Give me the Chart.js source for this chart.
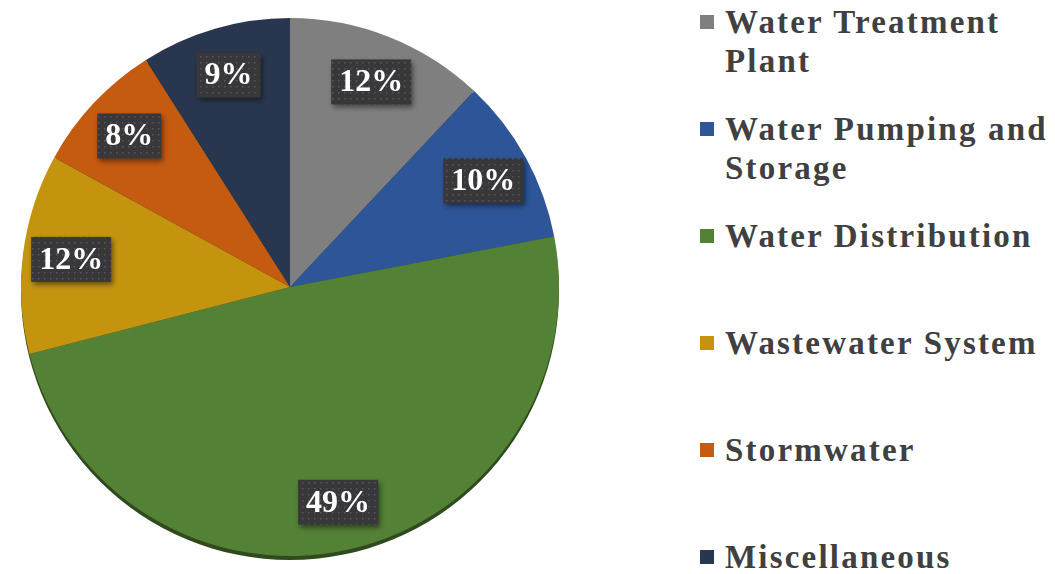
<!DOCTYPE html>
<html>
<head>
<meta charset="utf-8">
<script src="https://cdn.jsdelivr.net/npm/chart.js@4.4.0/dist/chart.umd.min.js"></script>
<style>
  body { margin: 0; background: #fff; width: 1055px; height: 574px; overflow: hidden; position: relative; }
  #wrap { position: absolute; left: 0; top: 0; width: 580px; height: 574px; }
  #legend { position: absolute; left: 698px; top: 3px; width: 357px; }
  .item { position: relative; height: 107px; }
  .box { position: absolute; left: 2px; top: 12px; width: 14px; height: 14px; }
  .txt { position: absolute; left: 27px; top: 0; width: 330px;
         font: bold 33px "Liberation Serif", "Times New Roman", serif;
         line-height: 39px; letter-spacing: 2.2px; color: #404040; }
</style>
</head>
<body>
<div id="wrap"><canvas id="pie"></canvas></div>
<div id="legend"></div>
<script>
// data
const categories = ["Water Treatment Plant", "Water Pumping and Storage", "Water Distribution",
                    "Wastewater System", "Stormwater", "Miscellaneous"];
const shares = [12, 10, 49, 12, 8, 9];
const sliceColors = ["#7f7f7f", "#2e5598", "#538135", "#c4940f", "#c55a11", "#28374f"];

// dotted dark fill for the percent labels
function dotPattern(ctx){
  let c = document.createElement('canvas');
  c.width = 6; c.height = 6;
  let g = c.getContext('2d');
  g.fillStyle = '#38383b';
  g.fillRect(0, 0, 6, 6);
  g.fillStyle = '#56565c';
  g.fillRect(2, 2, 1.5, 1.5);
  return ctx.createPattern(c, 'repeat');
}

// dark rim under the pie, like the 3d edge in the picture
const rimPlugin = {
  id: 'rim',
  beforeDatasetsDraw(chart){
    let arc = chart.getDatasetMeta(0).data[0];
    if(!arc) return;
    let ctx = chart.ctx;
    ctx.save();
    ctx.beginPath();
    ctx.arc(arc.x, arc.y + 4, arc.outerRadius, 0, Math.PI * 2);
    ctx.fillStyle = '#2f4a1c';
    ctx.fill();
    ctx.restore();
  }
};

const labelPlugin = {
  id: 'pctLabels',
  afterDatasetsDraw(chart){
    let ctx = chart.ctx;
    let pat = dotPattern(ctx);
    let meta = chart.getDatasetMeta(0);
    ctx.save();
    ctx.font = 'bold 32px "Liberation Serif", serif';
    ctx.textAlign = 'center';
    ctx.textBaseline = 'middle';
    meta.data.forEach(function(arc, i){
      let mid = (arc.startAngle + arc.endAngle) / 2;
      let r = arc.outerRadius * 0.82;
      let x = arc.x + Math.cos(mid) * r;
      let y = arc.y + Math.sin(mid) * r;
      let text = shares[i] + '%';
      let w = ctx.measureText(text).width + 16;
      let h = 45;
      ctx.save();
      ctx.shadowColor = 'rgba(0,0,0,0.45)';
      ctx.shadowBlur = 5;
      ctx.shadowOffsetX = 2;
      ctx.shadowOffsetY = 3;
      ctx.fillStyle = pat;
      ctx.fillRect(x - w / 2, y - h / 2, w, h);
      ctx.restore();
      ctx.fillStyle = '#ffffff';
      ctx.fillText(text, x, y + 1);
    });
    ctx.restore();
  }
};

let chart = new Chart(document.getElementById('pie'), {
  type: 'pie',
  data: {
    labels: categories,
    datasets: [{
      data: shares,
      backgroundColor: sliceColors,
      borderWidth: 0
    }]
  },
  options: {
    responsive: true,
    maintainAspectRatio: false,
    animation: false,
    layout: { padding: { top: 18, bottom: 18, left: 0, right: 0 } },
    plugins: {
      legend: { display: false },
      tooltip: { enabled: false }
    }
  },
  plugins: [rimPlugin, labelPlugin]
});

// legend on the right, built from the chart data
let legendDiv = document.getElementById('legend');
chart.data.labels.forEach(function(name, i){
  let item = document.createElement('div');
  item.className = 'item';
  let box = document.createElement('div');
  box.className = 'box';
  box.style.background = chart.data.datasets[0].backgroundColor[i];
  let txt = document.createElement('div');
  txt.className = 'txt';
  txt.textContent = name;
  item.appendChild(box);
  item.appendChild(txt);
  legendDiv.appendChild(item);
});
</script>
</body>
</html>
